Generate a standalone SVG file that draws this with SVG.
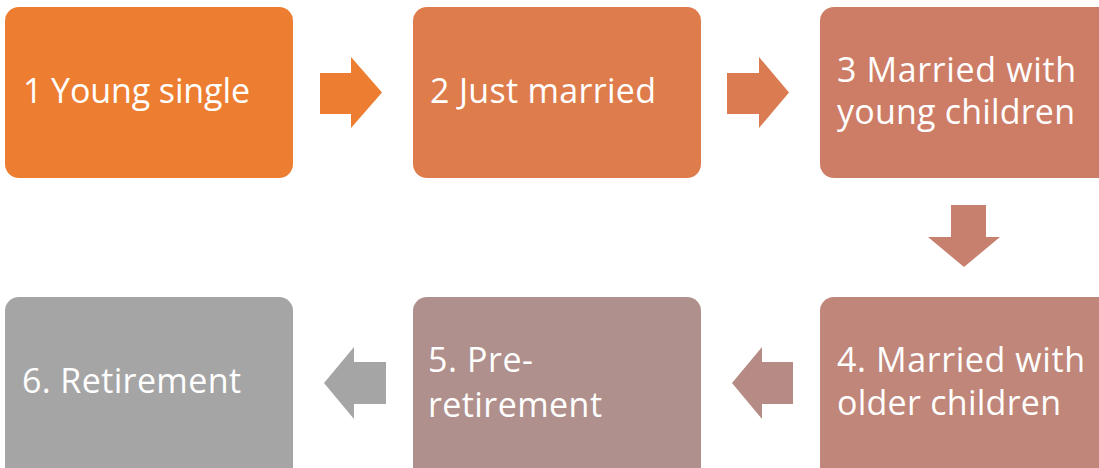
<svg xmlns="http://www.w3.org/2000/svg" width="1099" height="468" viewBox="0 0 1099 468">
<style>
.t{font-family:"Open Sans","Noto Sans","Liberation Sans",sans-serif;font-size:34px;fill:#fff}
</style>
<rect width="1099" height="468" fill="#fff"/>
<g id="connectors">
<path d="M320,73 H351 V57 L382,92.5 L351,128 V114 H320 Z" fill="#ED7D31"/>
<path d="M727,73 H759 V57 L789,92.5 L759,128 V114 H727 Z" fill="#DA7B51"/>
<path d="M951,205 H986 V237 H1000 L964,267 L928,237 H951 Z" fill="#C7806E"/>
<path d="M793,362 H762 V347 L732,383 L762,419 V404 H793 Z" fill="#B68B85"/>
<path d="M386,362 H354 V347 L324,383 L354,419 V404 H386 Z" fill="#A5A5A5"/>
</g>
<g id="n1"><rect x="5" y="7" width="288" height="171" rx="14" fill="#ED7D31"/><text class="t" x="23" y="103" textLength="227">1 Young single</text></g>
<g id="n2"><rect x="413" y="7" width="288" height="171" rx="14" fill="#DE7C4C"/><text class="t" x="430" y="103" textLength="226">2 Just married</text></g>
<g id="n3"><rect x="820" y="7" width="300" height="171" rx="14" fill="#CD7D66"/><text class="t" x="837" y="82" textLength="239">3 Married with</text><text class="t" x="837" y="124" textLength="238">young children</text></g>
<g id="n4"><rect x="820" y="297" width="300" height="190" rx="14" fill="#BF8679"/><text class="t" x="837" y="372" textLength="248">4. Married with</text><text class="t" x="837" y="415" textLength="224">older children</text></g>
<g id="n5"><rect x="413" y="297" width="288" height="190" rx="14" fill="#B0908C"/><text class="t" x="428" y="372" textLength="105">5. Pre-</text><text class="t" x="428" y="417" textLength="174">retirement</text></g>
<g id="n6"><rect x="5" y="297" width="288" height="190" rx="14" fill="#A5A5A5"/><text class="t" x="22" y="393" textLength="219">6. Retirement</text></g>
</svg>
